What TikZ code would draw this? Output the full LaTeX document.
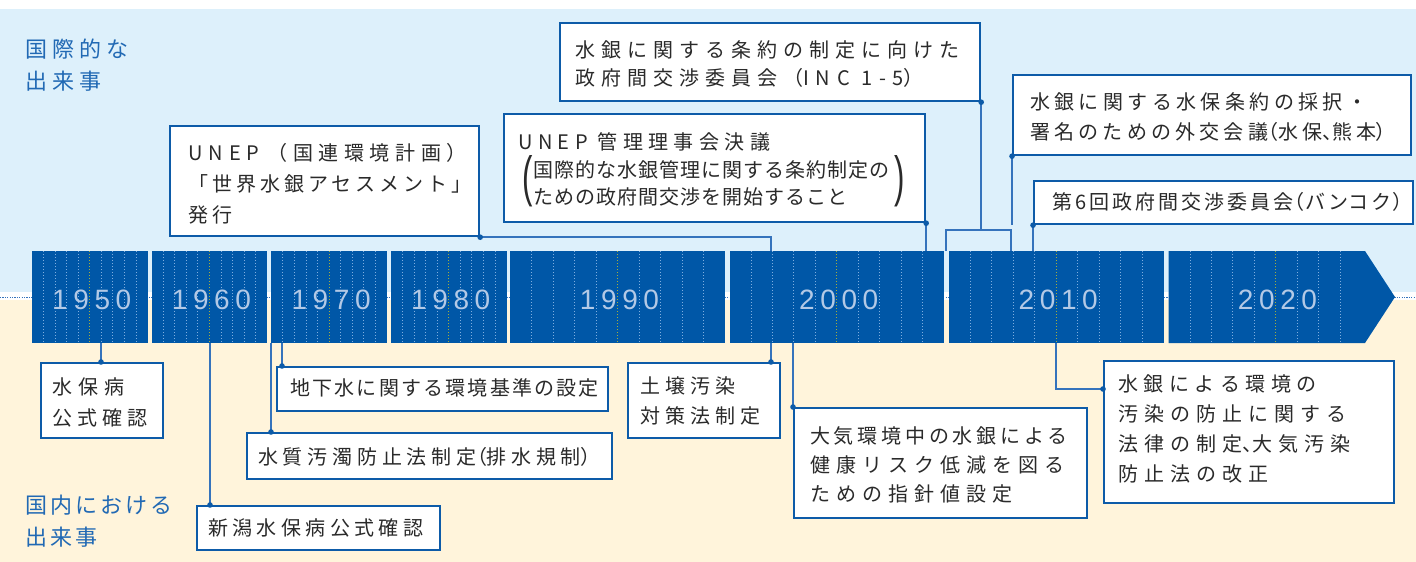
\documentclass[tikz,border=0pt]{standalone}
\usepackage{fontspec}
\usepackage{graphicx}
\setmainfont{Noto Sans CJK JP}
\newfontfamily\jp{Noto Sans CJK JP}
\newfontfamily\yearfont[LetterSpace=20]{Liberation Sans}
\newfontfamily\parenfont{Liberation Sans}
\newcommand\jls[1]{\addfontfeatures{LetterSpace=#1}}
\newcommand\jpp[1]{{\addfontfeatures{RawFeature=+palt}#1}}
\definecolor{bgblue}{HTML}{DDF0FB}
\definecolor{bgcream}{HTML}{FFF4DB}
\definecolor{barblue}{HTML}{0057A7}
\definecolor{boxblue}{HTML}{0D5BA8}
\definecolor{lineblue}{HTML}{3573BC}
\definecolor{txtgray}{HTML}{2A2A2A}
\definecolor{yearcol}{HTML}{B3C9E6}
\definecolor{tickcol}{HTML}{7FAEDF}
\definecolor{midcol}{HTML}{A5AE3C}
\definecolor{catblue}{HTML}{2169B4}
\tikzset{
  box/.style={draw=boxblue, line width=2.2pt, fill=white, inner sep=0pt, anchor=north west},
  txt/.style={text=txtgray, inner sep=0pt, align=left, anchor=west, font=\jp\fontsize{20}{#1}\selectfont},
  txt/.default=30,
  conn/.style={draw=lineblue, line width=1.5pt},
  joint/.style={fill=boxblue},
  yearlbl/.style={text=yearcol, font=\yearfont\fontsize{28}{28}\selectfont, inner sep=0pt},
  tick/.style={draw=tickcol, line width=0.9pt, dash pattern=on 1.2pt off 1.8pt},
  midtick/.style={draw=midcol, line width=0.9pt, dash pattern=on 1.2pt off 1.8pt},
  catlbl/.style={text=catblue, inner sep=0pt, align=left, anchor=west, font=\jp\fontsize{22}{32}\selectfont},
}
\begin{document}
\begin{tikzpicture}[x=1pt,y=-1pt]
\useasboundingbox (0,0) rectangle (1416,562);
% backgrounds
\fill[white] (0,0) rectangle (1416,562);
\fill[bgblue] (0,9) rectangle (1416,292);
\fill[bgcream] (0,300) rectangle (1416,562);
\draw[lineblue, line width=0.9pt, dash pattern=on 1.2pt off 1.2pt] (0,297) -- (1416,297);

% timeline bar
\foreach \segx/\segw/\lab in {32/115.5/1950, 151.67/115.5/1960, 271.33/115.5/1970, 391/115.5/1980, 510/215/1990, 729.5/214.5/2000, 949/214.5/2010} {
  \fill[barblue] (\segx,251) rectangle ({\segx+\segw},343);
  \foreach \k in {1,2,3,4,6,7,8,9} {
    \draw[tick] ({\segx+\k*\segw/10},251) -- ({\segx+\k*\segw/10},343);
  }
  \draw[midtick] ({\segx+5*\segw/10},251) -- ({\segx+5*\segw/10},343);
  \node[yearlbl] (yr\lab) at ({\segx+\segw/2+2},300) {\lab};
}
\fill[barblue] (1168.5,251) -- (1365,251) -- (1395,297) -- (1365,343) -- (1168.5,343) -- cycle;
\foreach \k in {1,2,3,4,6,7,8} {
  \draw[tick] ({1168.5+\k*21.45},251) -- ({1168.5+\k*21.45},343);
}
\draw[midtick] ({1168.5+5*21.45},251) -- ({1168.5+5*21.45},343);
\node[yearlbl] (yr2020) at (1277.5,300) {2020};

% category labels
\node[catlbl] (intl) at (25,65) {\jls{23}国際的な\\\jls{23}出来事};
\node[catlbl] (dom) at (25,521) {\jls{14}国内における\\\jls{14}出来事};

% ---------- international boxes ----------
\node[box, minimum width=420pt, minimum height=78pt] (T1) at (559,22) {};
\node[txt=28] (T1t) at (575,64) {\jls{30}水銀に関する条約の制定に向けた\\\jls{30}政府間交渉委員会（\jls{34}INC 1-5\jls{30}）};

\node[box, minimum width=398pt, minimum height=80pt] (T2) at (1012,74) {};
\node[txt=30] (T2t) at (1030,117) {\jls{22}水銀に関する水保条約の採択・\\\jls{21}署名のための外交会議\jpp{（}水保\jpp{、}熊本\jpp{）}};

\node[box, minimum width=379pt, minimum height=43pt] (T3) at (1033,180) {};
\node[txt] (T3t) at (1052,202) {\jls{15}第6回政府間交渉委員会\jpp{（バンコク）}};

\node[box, minimum width=421pt, minimum height=108pt] (T4) at (503,113) {};
\node[txt=27.5] (T4t) at (518,169.5) {\jls{27}UNEP 管理理事会決議\\\hspace*{15pt}\jls{5}国際的な水銀管理に関する条約制定の\\\hspace*{15pt}\jls{5}ための政府間交渉を開始すること};
\node[text=txtgray, inner sep=0pt] (lpar) at (527.5,181.5) {\parenfont\fontsize{24}{24}\selectfont\scalebox{1.3}[2.3]{(}};
\node[text=txtgray, inner sep=0pt] (rpar) at (900,181.5) {\parenfont\fontsize{24}{24}\selectfont\scalebox{1.3}[2.3]{)}};

\node[box, minimum width=309pt, minimum height=110pt] (T5) at (169,125) {};
\node[txt=31] (T5t) at (188,183.5) {\jls{30}UNEP\hspace{8pt}\jls{28}（国連環境計画）\\\jls{20}「世界水銀アセスメント」\\\jls{20}発行};

% ---------- domestic boxes ----------
\node[box, minimum width=122pt, minimum height=75pt] (B1) at (40,362) {};
\node[txt=31] (B1t) at (52,402) {\jls{30}水保病\\\jls{25}公式確認};

\node[box, minimum width=243pt, minimum height=44pt] (B2) at (196,505) {};
\node[txt] (B2t) at (208,528) {\jls{22}新潟水保病公式確認};

\node[box, minimum width=365pt, minimum height=46pt] (B3) at (246,432) {};
\node[txt] (B3t) at (258,457) {\jls{24}水質汚濁防止法制定\jpp{（}排水規制\jpp{）}};

\node[box, minimum width=331pt, minimum height=44pt] (B4) at (276,366) {};
\node[txt] (B4t) at (290,388) {\jls{11}地下水に関する環境基準の設定};

\node[box, minimum width=152pt, minimum height=75pt] (B5) at (627,362) {};
\node[txt=30] (B5t) at (640,401) {\jls{25}土壌汚染\\\jls{25}対策法制定};

\node[box, minimum width=293pt, minimum height=110pt] (B6) at (793,407) {};
\node[txt=29] (B6t) at (810,465) {\jls{19}大気環境中の水銀による\\\jls{30}健康リスク低減を図る\\\jls{30}ための指針値設定};

\node[box, minimum width=290pt, minimum height=142pt] (B7) at (1103,360) {};
\node[txt=30] (B7t) at (1118,429) {\jls{28}水銀による環境の\\\jls{30}汚染の防止に関する\\\jls{30}法律の制定\jpp{、}大気汚染\\\jls{30}防止法の改正};

% ---------- connectors (top) ----------
\coordinate (barTop) at (0,251);
\coordinate (barBot) at (0,343);
\coordinate (k02t) at (771,251);
\coordinate (brL) at (946,251);
\coordinate (brR) at (1011,251);
\coordinate (brTL) at (946,230);
\coordinate (brTR) at (1011,230);

\draw[conn] (T5.south east) -| (k02t);
\draw[conn] (T4.south east) -- (T4.south east |- barTop);
\draw[conn] (brL) -- (brTL) -- (brTR) -- (brR);
\draw[conn] (T1.south east) -- (T1.south east |- brTL);
\draw[conn] (T2.south west) -- (T2.south west |- T3.south west);
\draw[conn] (T3.south west) -- (T3.south west |- barTop);

\fill[joint] (T5.south east) circle[radius=2.8pt];
\fill[joint] (T4.south east) circle[radius=2.8pt];
\fill[joint] (T1.south east) circle[radius=2.8pt];
\fill[joint] (T2.south west) circle[radius=2.8pt];
\fill[joint] (T3.south west) circle[radius=2.8pt];

% ---------- connectors (bottom) ----------
\coordinate (k56) at (101,343);
\coordinate (k65) at (210,343);
\coordinate (k70) at (271,343);
\coordinate (k71) at (282,343);
\coordinate (k02) at (771,343);
\coordinate (k12) at (1056,343);
\coordinate (b7in) at (1103,389);

\draw[conn] (k56) -- (k56 |- B1.north);
\draw[conn] (k65) -- (k65 |- B2.north);
\draw[conn] (k70) -- (k70 |- B3.north);
\draw[conn] (k71) -- (k71 |- B4.north);
\draw[conn] (k02) -- (k02 |- B5.north);
\draw[conn] (B6.north west |- barBot) -- (B6.north west);
\draw[conn] (k12) |- (b7in);

\fill[joint] (k56 |- B1.north) circle[radius=2.8pt];
\fill[joint] (k65 |- B2.north) circle[radius=2.8pt];
\fill[joint] (k70 |- B3.north) circle[radius=2.8pt];
\fill[joint] (k71 |- B4.north) circle[radius=2.8pt];
\fill[joint] (k02 |- B5.north) circle[radius=2.8pt];
\fill[joint] (B6.north west) circle[radius=2.8pt];
\fill[joint] (b7in) circle[radius=2.8pt];
\end{tikzpicture}
\end{document}
